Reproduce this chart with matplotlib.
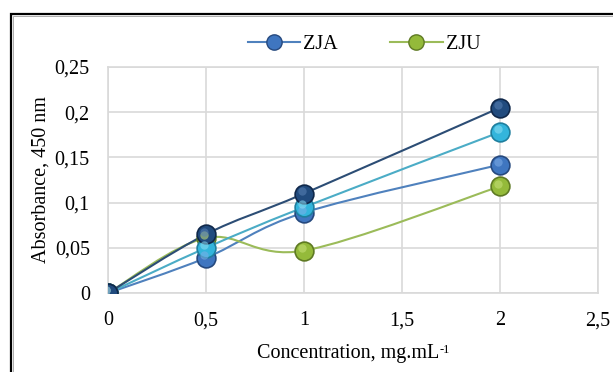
import numpy as np
import matplotlib.pyplot as plt
from matplotlib.path import Path
from matplotlib.patches import PathPatch, Rectangle
from matplotlib.transforms import offset_copy

plt.rcParams['font.family'] = ['Liberation Serif', 'DejaVu Serif']

# --- data ---
conc = [0, 0.5, 1, 2]
zja = [0, 0.039, 0.089, 0.142]
zju = [0, 0.061, 0.047, 0.118]
series3 = [0, 0.050, 0.095, 0.178]
series4 = [0, 0.065, 0.110, 0.205]

x_ticks = [0, 0.5, 1, 1.5, 2, 2.5]
x_labels = ['0', '0,5', '1', '1,5', '2', '2,5']
y_ticks = [0, 0.05, 0.1, 0.15, 0.2, 0.25]
y_labels = ['0', '0,05', '0,1', '0,15', '0,2', '0,25']

FS = 14.5


def smooth_path(xs, ys):
    # Excel-like smoothed line (Catmull-Rom as cubic bezier)
    pts = np.column_stack([xs, ys]).astype(float)
    verts = [pts[0]]
    codes = [Path.MOVETO]
    n = len(pts)
    for i in range(n - 1):
        p0 = pts[max(i - 1, 0)]
        p1 = pts[i]
        p2 = pts[i + 1]
        p3 = pts[min(i + 2, n - 1)]
        c1 = p1 + (p2 - p0) / 6.0
        c2 = p2 - (p3 - p1) / 6.0
        verts += [c1, c2, p2]
        codes += [Path.CURVE4] * 3
    return Path(verts, codes)


fig = plt.figure(figsize=(6.13, 3.72), dpi=100)
ax = fig.add_axes([0.176, 0.212, 0.7995, 0.608])

# outer frame
fig.patches.append(Rectangle((10.5 / 613, -0.05), 1.1, 1 - 13.5 / 372 + 0.05,
                             transform=fig.transFigure, fill=False,
                             edgecolor='black', linewidth=1.6))
fig.patches.append(Rectangle((12.5 / 613, -0.05), 1.1, 1 - 15.5 / 372 + 0.05,
                             transform=fig.transFigure, fill=False,
                             edgecolor='#a0a0a0', linewidth=0.6))

styles = [
    (zja, '#4F81BD', '#3F76C0', '#26497E', '#7FAEE8', 'ZJA'),
    (zju, '#9BBB59', '#94BA3A', '#5F7A24', '#C8E27A', 'ZJU'),
    (series3, '#4BACC6', '#33B5DC', '#1F7F9E', '#8FE0F5', None),
    (series4, '#2C4D75', '#214B7E', '#10284A', '#5A82B5', None),
]

hl = offset_copy(ax.transData, fig=fig, x=-1.5, y=2.0, units='points')

for ys, lc, fc, ec, hc, lab in styles:
    ax.add_patch(PathPatch(smooth_path(conc, ys), facecolor='none',
                           edgecolor=lc, linewidth=1.5, zorder=3))
    ax.plot(conc, ys, linestyle='none', marker='o', markersize=13.5,
            markerfacecolor=fc, markeredgecolor=ec, markeredgewidth=1.2,
            zorder=4)
    ax.plot(conc, ys, linestyle='none', marker='o', markersize=6,
            markerfacecolor=hc, markeredgecolor='none', alpha=0.55,
            transform=hl, zorder=5)
    if lab:
        ax.plot([], [], color=lc, linewidth=1.5, marker='o', markersize=11,
                markerfacecolor=fc, markeredgecolor=ec, label=lab)

ax.set_xlim(0, 2.5)
ax.set_ylim(0, 0.25)
ax.set_xticks(x_ticks)
ax.set_xticklabels(x_labels)
ax.set_yticks(y_ticks)
ax.set_yticklabels(y_labels)
ax.tick_params(axis='both', length=0, labelsize=FS, colors='black')
ax.tick_params(axis='x', pad=13)
ax.tick_params(axis='y', pad=13)
ax.grid(True, color='#d9d9d9', linewidth=1.2)
ax.set_axisbelow(True)
for s in ax.spines.values():
    s.set_color('#d9d9d9')
    s.set_linewidth(1.2)

xl = ax.set_xlabel('Concentration, mg.mL', fontsize=FS)
ax.xaxis.set_label_coords(0.49, -0.225)
ax.annotate('-1', xy=(1, 1), xycoords=xl, xytext=(0.5, 0), textcoords='offset points',
            fontsize=9, ha='left', va='top')
ax.set_ylabel('Absorbance, 450 nm', fontsize=FS)
ax.yaxis.set_label_coords(-0.118, 0.5)

ax.legend(loc='center', bbox_to_anchor=(0.594, 0.880), bbox_transform=fig.transFigure,
          ncol=2, frameon=False, fontsize=FS, handlelength=2.6, handletextpad=0.15,
          columnspacing=2.6)

fig.savefig('out.png', dpi=100)
